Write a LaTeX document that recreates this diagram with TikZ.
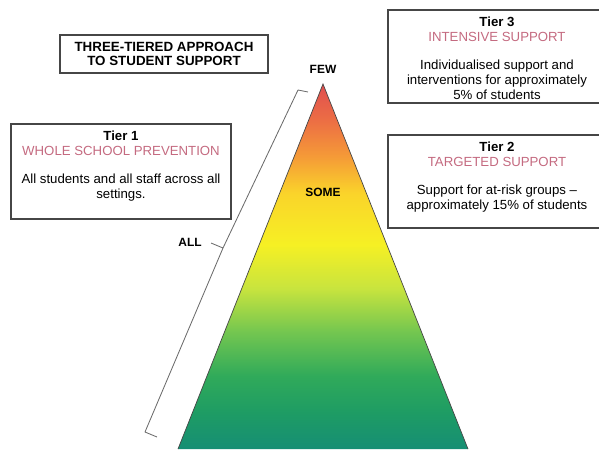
\documentclass[tikz,border=0pt]{standalone}
\usepackage{fontspec}
\setmainfont{Liberation Sans}
\usetikzlibrary{positioning}

\definecolor{tierpink}{RGB}{196,106,128}
\definecolor{boxgray}{RGB}{70,70,70}
\definecolor{pyr0}{RGB}{22,142,116}
\definecolor{pyr1}{RGB}{30,156,100}
\definecolor{pyr2}{RGB}{48,170,90}
\definecolor{pyr3}{RGB}{115,198,80}
\definecolor{pyr4}{RGB}{200,228,62}
\definecolor{pyr5}{RGB}{246,240,36}
\definecolor{pyr6}{RGB}{250,212,42}
\definecolor{pyr7}{RGB}{245,155,55}
\definecolor{pyr8}{RGB}{236,110,68}
\definecolor{pyr9}{RGB}{224,78,80}
\pgfdeclareverticalshading{pyramid}{100bp}{color(0bp)=(pyr0); color(25bp)=(pyr0);
  color(30bp)=(pyr1); color(35bp)=(pyr2); color(41bp)=(pyr3); color(47bp)=(pyr4);
  color(53bp)=(pyr5); color(60bp)=(pyr6); color(65bp)=(pyr7); color(70bp)=(pyr8);
  color(75bp)=(pyr9); color(100bp)=(pyr9)}

\tikzset{
  tierbox/.style={draw=boxgray, line width=1pt, inner sep=0pt},
  tiertext/.style={align=center, inner sep=0pt, font=\fontsize{9.4}{10.7}\selectfont},
  lbl/.style={inner sep=0pt, font=\bfseries\fontsize{8.5}{10}\selectfont}
}

\begin{document}
\begin{tikzpicture}[x=0.025cm, y=-0.025cm]
            \useasboundingbox (0,0) rectangle (599,449);
            % pyramid
            \coordinate (apex) at (323,84);
            \coordinate (bl) at (178,449);
            \coordinate (br) at (468,449);
            \shade[shading=pyramid] (apex) -- (bl) -- (br) -- cycle;
            \draw[boxgray, line width=0.5pt] (bl) -- (apex) -- (br);
            % boxes
            \node (title) [tierbox, minimum width=5.2cm, minimum height=0.95cm, align=center,
                font=\bfseries\fontsize{9.5}{10.3}\selectfont] at (164,54) {THREE-TIERED APPROACH\\TO STUDENT SUPPORT};
            \node (tier1) [tierbox, minimum width=5.5cm, minimum height=2.375cm] at (121,171.5) {};
            \node (tier3) [tierbox, minimum width=5.45cm, minimum height=2.325cm] at (497,56.5) {};
            \node (tier2) [tierbox, minimum width=5.45cm, minimum height=2.325cm] at (497,181.5) {};
            \node (t1text) [tiertext, below=5pt of tier1.north] {\textbf{Tier 1}\\
                \textcolor{tierpink}{WHOLE SCHOOL PREVENTION}\\[9.5pt]
                All students and all staff across all\\settings.};
            \node (t3text) [tiertext, below=5pt of tier3.north] {\textbf{Tier 3}\\
                \textcolor{tierpink}{INTENSIVE SUPPORT}\\[9.5pt]
                Individualised support and\\interventions for approximately\\5\% of students};
            \node (t2text) [tiertext, below=5pt of tier2.north] {\textbf{Tier 2}\\
                \textcolor{tierpink}{TARGETED SUPPORT}\\[9.5pt]
                Support for at-risk groups --\\approximately 15\% of students};
            % labels
            \node (few) [lbl, above=7.5pt of apex] {FEW};
            \node (some) [lbl] at (323,192) {SOME};
            \node (all) [lbl] at (190,242) {ALL};
            % bracket
            \coordinate (botend) at (157,437);
            \coordinate (botcorner) at (145,432);
            \coordinate (notch) at (223,248);
            \coordinate (notchtip) at (211,243);
            \coordinate (topcorner) at (298,90);
            \coordinate (topend) at (308,92);
            \draw[boxgray!80, line width=0.6pt, line join=round]
                (botend) -- (botcorner) -- (notch) -- (topcorner) -- (topend)
                (notch) -- (notchtip);
        \end{tikzpicture}
\end{document}
